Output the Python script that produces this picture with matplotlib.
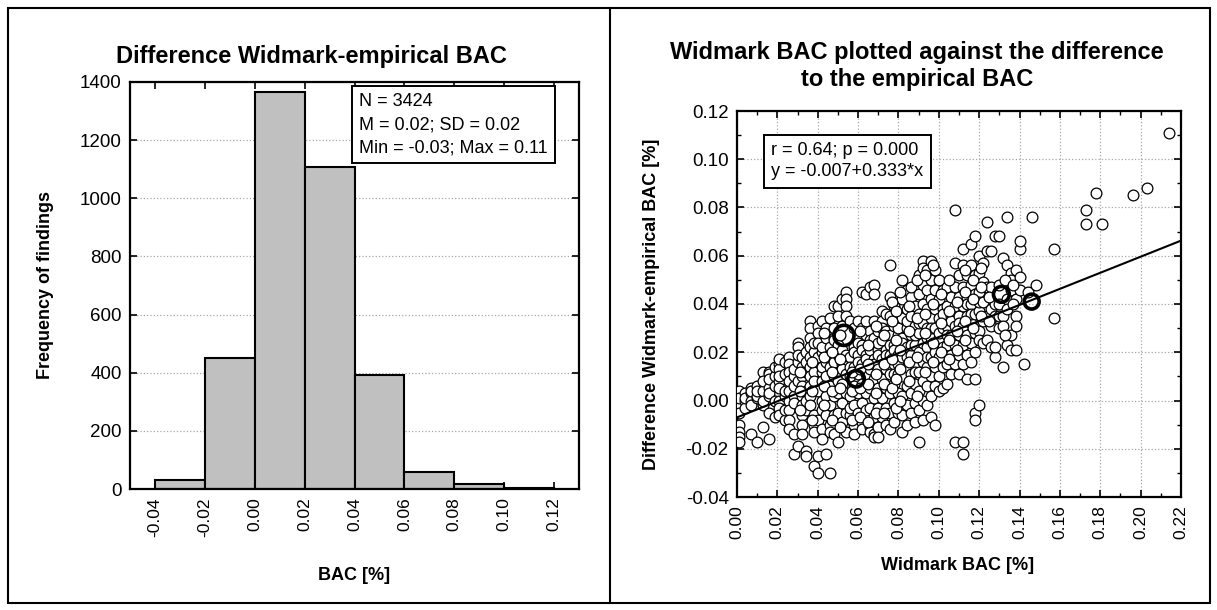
import matplotlib

matplotlib.use("Agg")

import matplotlib.pyplot as plt
import numpy as np
from matplotlib.lines import Line2D
from matplotlib.patches import Rectangle
from matplotlib.ticker import MultipleLocator

plt.rcParams["font.family"] = ["Liberation Sans", "DejaVu Sans"]

W, H = 1217, 610

# histogram of the difference Widmark - empirical BAC
bin_edges = [-0.04, -0.02, 0.00, 0.02, 0.04, 0.06, 0.08, 0.10, 0.12]
bin_counts = [31, 451, 1365, 1108, 392, 57, 17, 3]
hist_stats = ["N = 3424", "M = 0.02; SD = 0.02", "Min = -0.03; Max = 0.11"]

# regression of the difference on the Widmark BAC
reg_intercept = -0.007
reg_slope = 0.333
reg_stats = ["r = 0.64; p = 0.000", "y = -0.007+0.333*x"]

# scatter points (Widmark BAC, difference) grouped by Widmark BAC column
scatter_columns = {
    0.001: [0.000, 0.002, -0.002, 0.004, -0.005, 0.001, -0.010, -0.013, -0.015, -0.017],
    0.004: [0.003, 0.000, -0.003, 0.001],
    0.007: [0.003, 0.005, 0.000, -0.002, 0.004, -0.014],
    0.010: [0.001, 0.006, 0.002, -0.017, 0.004],
    0.013: [0.004, -0.002, 0.012, 0.008, 0.000, -0.011],
    0.016: [0.012, 0.011, 0.005, 0.009, 0.002, -0.005, 0.003, -0.016],
    0.019: [0.006, 0.010, -0.007, 0.014, 0.000],
    0.021: [0.015, 0.013, 0.017, 0.008, 0.005, 0.000, -0.003, -0.006, 0.010],
    0.024: [0.002, -0.008, 0.011, 0.016, 0.004, -0.004],
    0.026: [0.018, 0.015, 0.012, 0.008, 0.004, 0.000, -0.004, -0.008, -0.012],
    0.028: [0.010, 0.002, -0.014, 0.006, -0.022, -0.001, 0.013],
    0.030: [0.024, 0.022, -0.019, 0.016, 0.008, 0.019],
    0.032: [0.018, 0.014, 0.010, 0.006, 0.002, -0.002, -0.006, -0.010, -0.014],
    0.034: [0.020, 0.012, 0.004, -0.004, 0.016, 0.000, -0.021, -0.023],
    0.036: [0.033, 0.030, 0.026, 0.022, 0.018, 0.014, 0.010, 0.006, 0.002, -0.002],
    0.038: [-0.006, -0.010, -0.013, 0.020, 0.012, -0.027, 0.024, 0.008],
    0.040: [0.031, 0.028, 0.024, 0.016, 0.004, -0.008, -0.030, -0.023, 0.018],
    0.042: [0.020, 0.012, 0.008, 0.000, -0.004, -0.012, 0.033, 0.022, 0.014, -0.016],
    0.044: [0.026, 0.010, 0.002, -0.006, 0.030, 0.016, -0.022],
    0.046: [0.034, 0.022, 0.018, 0.014, 0.006, -0.002, -0.010, -0.013, -0.030],
    0.048: [0.039, 0.030, 0.026, 0.010, 0.002, -0.006, -0.014, 0.025, 0.016],
    0.050: [0.039, 0.035, 0.023, 0.019, 0.011, 0.003, -0.005, -0.017, 0.008],
    0.052: [0.031, 0.015, 0.007, -0.001, -0.009, 0.021, 0.013, 0.042],
    0.054: [0.045, 0.042, 0.039, 0.019, 0.011, 0.003, -0.005, -0.013, 0.035],
    0.056: [0.033, 0.018, 0.010, 0.002, -0.006, 0.014, -0.003],
    0.058: [0.030, 0.022, 0.014, 0.006, -0.002, -0.010, -0.014, 0.020],
    0.060: [0.033, 0.027, 0.019, 0.011, 0.003, -0.005, 0.024, 0.016],
    0.062: [0.030, 0.023, 0.015, 0.007, -0.001, -0.009, -0.012, 0.021, 0.045],
    0.064: [0.033, 0.027, 0.019, 0.011, 0.003, 0.017, -0.004, 0.044],
    0.066: [0.029, 0.025, 0.021, 0.013, 0.005, -0.003, -0.011, 0.047, -0.013],
    0.068: [0.033, 0.017, 0.009, 0.001, -0.007, 0.026, 0.015, -0.014, 0.048, 0.044, -0.015],
    0.070: [0.029, 0.021, 0.013, 0.005, -0.003, -0.011, 0.019, -0.015, 0.024],
    0.072: [0.037, 0.033, 0.025, 0.017, 0.009, 0.001, -0.007, 0.030],
    0.074: [0.029, 0.021, 0.013, 0.005, -0.003, 0.019, 0.036, -0.010],
    0.076: [0.043, 0.035, 0.027, 0.019, 0.011, 0.003, -0.005, -0.012, 0.056, 0.023],
    0.078: [0.039, 0.031, 0.023, 0.015, 0.007, -0.001, -0.009, 0.021, 0.011],
    0.080: [0.035, 0.027, 0.019, 0.011, 0.003, -0.005, 0.030, 0.015],
    0.082: [0.050, 0.042, 0.034, 0.026, 0.018, 0.010, 0.002, -0.006, -0.013, 0.024],
    0.084: [0.046, 0.038, 0.030, 0.022, 0.014, 0.006, -0.002, -0.010, 0.033, 0.018],
    0.086: [0.043, 0.035, 0.027, 0.019, 0.011, 0.003, -0.005, 0.047, 0.023],
    0.088: [0.039, 0.031, 0.023, 0.015, 0.007, -0.001, -0.009, 0.027, 0.012],
    0.090: [0.052, 0.044, 0.036, 0.028, 0.020, 0.012, 0.004, -0.004, -0.017, 0.032],
    0.092: [0.058, 0.055, 0.048, 0.040, 0.032, 0.024, 0.016, 0.008, 0.000, -0.008],
    0.094: [0.054, 0.046, 0.038, 0.030, 0.022, 0.014, 0.006, -0.002, 0.026, 0.018],
    0.096: [0.058, 0.050, 0.042, 0.034, 0.026, 0.018, 0.010, 0.002, -0.007, 0.030],
    0.098: [0.054, 0.046, 0.038, 0.030, 0.022, 0.014, 0.006, -0.010, 0.020],
    0.100: [0.050, 0.042, 0.034, 0.026, 0.018, 0.010, 0.004, 0.028],
    0.102: [0.046, 0.038, 0.030, 0.022, 0.014, 0.005, 0.036],
    0.104: [0.047, 0.039, 0.031, 0.023, 0.015, 0.007, 0.027],
    0.106: [0.043, 0.035, 0.027, 0.019, 0.011, 0.033],
    0.108: [0.057, 0.047, 0.039, 0.031, 0.023, 0.015, -0.017, 0.079],
    0.110: [0.052, 0.043, 0.035, 0.027, 0.019, 0.011, 0.032],
    0.112: [0.063, 0.056, 0.047, 0.039, 0.031, 0.023, 0.015, -0.017, -0.022],
    0.114: [0.052, 0.043, 0.035, 0.027, 0.019, 0.009, 0.040],
    0.116: [0.065, 0.056, 0.048, 0.040, 0.032, 0.024, 0.016, 0.036],
    0.118: [0.052, 0.044, 0.036, 0.028, 0.020, 0.068, 0.009, -0.005, -0.008],
    0.120: [0.060, 0.053, 0.045, 0.037, 0.029, 0.041, 0.025, -0.002],
    0.122: [0.057, 0.049, 0.041, 0.033, 0.024],
    0.124: [0.062, 0.047, 0.035, 0.074, 0.025],
    0.126: [0.047, 0.031, 0.022, 0.038, 0.062],
    0.128: [0.068, 0.035, 0.018, 0.022, 0.040],
    0.130: [0.068, 0.048, 0.040, 0.030, 0.035],
    0.132: [0.059, 0.035, 0.014, 0.031],
    0.134: [0.056, 0.042, 0.038, 0.023, 0.076],
    0.136: [0.053, 0.050, 0.046, 0.027, 0.021],
    0.138: [0.054, 0.042, 0.035, 0.031, 0.021],
    0.140: [0.051, 0.046, 0.063, 0.066],
    0.142: [0.015],
    0.144: [0.045],
    0.146: [0.076],
    0.148: [0.048],
    0.157: [0.063, 0.034],
    0.173: [0.079, 0.073],
    0.178: [0.086],
    0.181: [0.073],
    0.196: [0.085],
    0.203: [0.088],
    0.214: [0.111],
}
# points filling in between the columns above, in the dense middle of the cloud
scatter_fill = {
    0.031: [0.012, 0.004, -0.004],
    0.037: [0.016, 0.004, -0.008],
    0.043: [0.018, 0.006, -0.002, 0.028],
    0.047: [0.020, 0.012, 0.004, -0.008],
    0.051: [0.017, 0.005, 0.027, -0.011],
    0.057: [0.012, 0.004, -0.008],
    0.061: [0.013, 0.005, 0.029, -0.007],
    0.065: [0.023, 0.015, 0.007, -0.009],
    0.069: [0.031, 0.011, 0.003, -0.005],
    0.073: [0.027, 0.015, 0.007, -0.005],
    0.077: [0.033, 0.017, 0.005, 0.041],
    0.079: [0.025, 0.009, -0.003, 0.037],
    0.081: [0.021, 0.013, 0.000, 0.045],
    0.085: [0.029, 0.016, 0.008, 0.039],
    0.089: [0.034, 0.018, 0.002, 0.050],
    0.093: [0.036, 0.028, 0.012, 0.052],
    0.097: [0.040, 0.024, 0.016, 0.056],
    0.101: [0.032, 0.020, 0.044],
    0.105: [0.037, 0.025, 0.017, 0.050],
    0.109: [0.041, 0.029, 0.021],
    0.113: [0.045, 0.033, 0.025, 0.054],
    0.117: [0.042, 0.030, 0.050],
    0.121: [0.047, 0.035, 0.055],
    0.125: [0.043, 0.033],
    0.133: [0.050, 0.027],
    0.137: [0.040, 0.048],
}

widmark_bac = []
difference = []
for columns in (scatter_columns, scatter_fill):
    for x_val, ys in columns.items():
        for y_val in ys:
            widmark_bac.append(x_val)
            difference.append(y_val)

# a few heavier, overplotted cases
heavy_x = [0.053, 0.059, 0.131, 0.146]
heavy_y = [0.027, 0.009, 0.044, 0.041]
heavy_size = [210, 140, 130, 115]

fig = plt.figure(figsize=(W / 100, H / 100), dpi=100)


def px_box(left, top, right, bottom):
    return [left / W, 1 - bottom / H, (right - left) / W, (bottom - top) / H]


def style_axes(ax):
    for side in ax.spines.values():
        side.set_linewidth(1.6)
    ax.tick_params(direction="in", which="both", top=True, right=True,
                   length=5, width=1.2, pad=6)
    ax.tick_params(which="minor", length=3, width=1)
    ax.tick_params(axis="x", labelrotation=90, labelsize=12.5)
    ax.tick_params(axis="y", labelsize=13.5)


# --- left panel: histogram ---
ax1 = fig.add_axes(px_box(130, 82, 579, 489))
ax1.bar(bin_edges[:-1], bin_counts, width=np.diff(bin_edges), align="edge",
        color="#c0c0c0", edgecolor="black", linewidth=1.5, zorder=2)
ax1.set_xlim(-0.05, 0.13)
ax1.set_ylim(0, 1400)
ax1.set_xticks(bin_edges)
ax1.set_xticklabels([f"{v:.2f}" for v in bin_edges])
ax1.set_yticks(np.arange(0, 1401, 200))
ax1.yaxis.grid(True, linestyle=":", color="#a8a8a8", linewidth=0.9, zorder=0)
ax1.set_axisbelow(True)
style_axes(ax1)
ax1.text(0.511, 0.972, "\n".join(hist_stats), transform=ax1.transAxes,
         ha="left", va="top", fontsize=13, linespacing=1.45,
         bbox=dict(boxstyle="square,pad=0.4", facecolor="white",
                   edgecolor="black", linewidth=1.4), zorder=5)

fig.text(311 / W, 1 - 56 / H, "Difference Widmark-empirical BAC",
         ha="center", va="center", fontsize=17, fontweight="bold")
fig.text(46 / W, 1 - 285 / H, "Frequency of findings", rotation=90,
         ha="center", va="center", fontsize=13, fontweight="bold")
fig.text(354 / W, 1 - 575 / H, "BAC [%]",
         ha="center", va="center", fontsize=13, fontweight="bold")

# --- right panel: scatter with regression line ---
ax2 = fig.add_axes(px_box(737, 111, 1181, 497))
ax2.set_xlim(0, 0.22)
ax2.set_ylim(-0.04, 0.12)
ax2.xaxis.set_major_locator(MultipleLocator(0.02))
ax2.xaxis.set_minor_locator(MultipleLocator(0.01))
ax2.yaxis.set_major_locator(MultipleLocator(0.02))
ax2.yaxis.set_minor_locator(MultipleLocator(0.01))
ax2.xaxis.set_major_formatter(lambda v, p: f"{v:.2f}")
ax2.yaxis.set_major_formatter(lambda v, p: f"{v:.2f}")
ax2.grid(True, which="major", linestyle=":", color="#a8a8a8", linewidth=0.9)
ax2.set_axisbelow(True)
style_axes(ax2)

ax2.scatter(widmark_bac, difference, s=60, facecolor="white",
            edgecolor="black", linewidth=0.9, zorder=3)
ax2.scatter(heavy_x, heavy_y, s=heavy_size, facecolor="none",
            edgecolor="black", linewidth=2.6, zorder=3.5)
line_x = np.array([0.0, 0.22])
ax2.plot(line_x, reg_intercept + reg_slope * line_x, color="black",
         linewidth=1.5, zorder=4)
ax2.text(0.077, 0.92, "\n".join(reg_stats), transform=ax2.transAxes,
         ha="left", va="top", fontsize=13, linespacing=1.35,
         bbox=dict(boxstyle="square,pad=0.4", facecolor="white",
                   edgecolor="black", linewidth=1.4), zorder=5)

fig.text(917 / W, 1 - 66 / H,
         "Widmark BAC plotted against the difference\nto the empirical BAC",
         ha="center", va="center", fontsize=17, fontweight="bold",
         linespacing=1.2)
fig.text(652 / W, 1 - 304 / H, "Difference Widmark-empirical BAC [%]",
         rotation=90, ha="center", va="center", fontsize=13,
         fontweight="bold")
fig.text(958 / W, 1 - 566 / H, "Widmark BAC [%]",
         ha="center", va="center", fontsize=13, fontweight="bold")

# outer frame split into two panels
fig.add_artist(Rectangle((8 / W, 1 - 603 / H), 1202 / W, 595 / H,
                         transform=fig.transFigure, fill=False,
                         edgecolor="black", linewidth=1.5))
fig.add_artist(Line2D([610 / W, 610 / W], [1 - 603 / H, 1 - 8 / H],
                      transform=fig.transFigure, color="black",
                      linewidth=1.5))

fig.savefig("out.png", dpi=100)
